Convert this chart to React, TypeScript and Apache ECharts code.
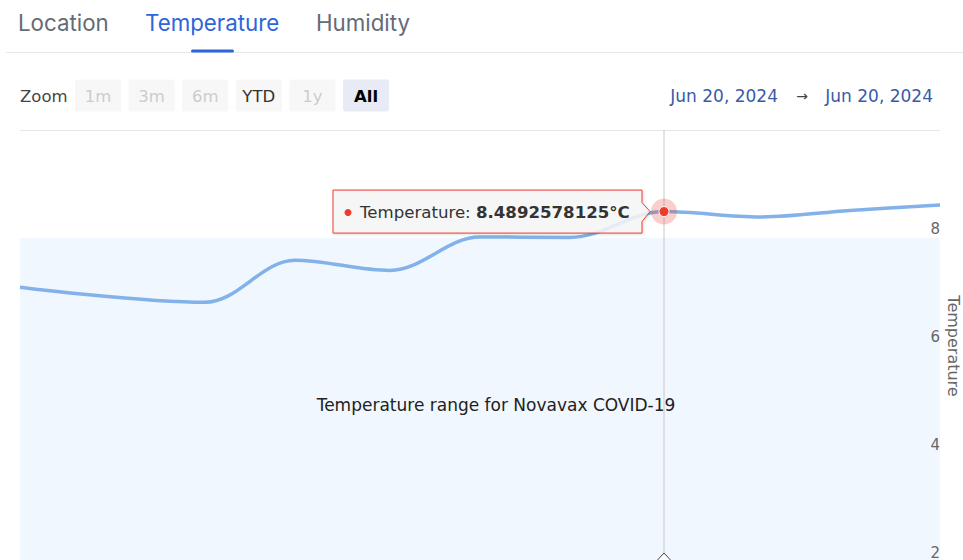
import React, { useEffect, useRef } from "react";
import * as echarts from "echarts";

// ---- data ----
const tabs = ["Location", "Temperature", "Humidity"];
const activeTab = "Temperature";
const zoomLabel = "Zoom";
const zoomButtons = ["1m", "3m", "6m", "YTD", "1y", "All"];
const enabledButtons = ["YTD", "All"];
const selectedButton = "All";
const rangeFrom = "Jun 20, 2024";
const rangeTo = "Jun 20, 2024";

const times = [
  "2024-06-20 12:00:00",
  "2024-06-20 12:18:30",
  "2024-06-20 12:27:30",
  "2024-06-20 12:37:00",
  "2024-06-20 12:46:00",
  "2024-06-20 12:55:00",
  "2024-06-20 13:04:24",
  "2024-06-20 13:14:00",
  "2024-06-20 13:23:00",
  "2024-06-20 13:32:00",
];
const temperatures = [7.09, 6.81, 7.59, 7.4, 8.02, 8.01, 8.4892578125, 8.39, 8.51, 8.61];
const hoveredIndex = 6;
const xRange = ["2024-06-20 12:00:00", "2024-06-20 13:32:00"];
const yMin = 2;
const yMax = 10;
const yInterval = 2;
const bandRange = [2, 8];
const bandLabel = "Temperature range for Novavax COVID-19";
const seriesName = "Temperature";
const yAxisTitle = "Temperature";
const unit = "°C";

const HC_FONT = "'DejaVu Sans', Verdana, sans-serif";
const RED = "#ec3a2c";

export default function App() {
  const ref = useRef<HTMLDivElement>(null);

  useEffect(() => {
    if (!ref.current) return;
    const chart = echarts.init(ref.current, undefined, { renderer: "svg" });

    const graphic: any[] = [];
    // tabs
    const tabX = [18, 145, 316];
    tabs.forEach((t, i) => {
      graphic.push({
        type: "text",
        x: tabX[i],
        y: 22,
        style: {
          text: t,
          font: "400 22.3px Inter, 'Noto Sans', sans-serif",
          fill: t === activeTab ? "#2d66d9" : "#636b78",
          textVerticalAlign: "middle",
        },
      });
    });
    graphic.push({
      type: "line",
      shape: { x1: 6, y1: 52.5, x2: 963, y2: 52.5 },
      style: { stroke: "#e6e8ec", lineWidth: 1 },
    });
    graphic.push({
      type: "rect",
      shape: { x: 191, y: 49.5, width: 43, height: 3, r: 1.5 },
      style: { fill: "#2d66d9" },
    });
    // range selector
    graphic.push({
      type: "text",
      x: 20,
      y: 96,
      style: { text: zoomLabel, font: `16.5px ${HC_FONT}`, fill: "#444", textVerticalAlign: "middle" },
    });
    zoomButtons.forEach((b, i) => {
      const x = 75 + i * 53.6;
      const enabled = enabledButtons.includes(b);
      const selected = b === selectedButton;
      graphic.push({
        type: "rect",
        shape: { x, y: 79.5, width: 46, height: 32, r: 2 },
        style: { fill: selected ? "#e6ebf5" : "#f7f7f7" },
      });
      graphic.push({
        type: "text",
        x: x + 23,
        y: 96,
        style: {
          text: b,
          font: `${selected ? "bold " : ""}16.5px ${HC_FONT}`,
          fill: selected ? "#000" : enabled ? "#333" : "#cccccc",
          textAlign: "center",
          textVerticalAlign: "middle",
        },
      });
    });
    graphic.push({
      type: "text",
      x: 778,
      y: 96,
      style: { text: rangeFrom, font: `17px ${HC_FONT}`, fill: "#3a5ba8", textAlign: "right", textVerticalAlign: "middle" },
    });
    graphic.push({
      type: "text",
      x: 802,
      y: 96,
      style: { text: "→", font: `14px ${HC_FONT}`, fill: "#444", textAlign: "center", textVerticalAlign: "middle" },
    });
    graphic.push({
      type: "text",
      x: 933,
      y: 96,
      style: { text: rangeTo, font: `17px ${HC_FONT}`, fill: "#3a5ba8", textAlign: "right", textVerticalAlign: "middle" },
    });
    // y-axis title (rotated clockwise)
    graphic.push({
      type: "text",
      x: 953,
      y: 346,
      rotation: -Math.PI / 2,
      style: {
        text: yAxisTitle,
        font: `16px ${HC_FONT}`,
        fill: "#666",
        textAlign: "center",
        textVerticalAlign: "middle",
      },
    });

    const lineData = times.map((t, i) => [t, temperatures[i]]);
    const hovered = [[times[hoveredIndex], temperatures[hoveredIndex]]];

    const yBase = {
      type: "value",
      position: "right",
      min: yMin,
      max: yMax,
      interval: yInterval,
      axisLine: { show: false },
      axisTick: { show: false },
    };

    chart.setOption({
      animation: false,
      graphic,
      grid: { left: 20, right: 23, top: 130, height: 432, containLabel: false, outerBoundsMode: "none" },
      xAxis: {
        type: "time",
        min: xRange[0],
        max: xRange[1],
        show: false,
      },
      yAxis: [
        {
          ...yBase,
          z: 0,
          splitLine: { show: true, lineStyle: { color: "#e6e6e6", width: 1 } },
          axisLabel: { show: false },
        },
        {
          ...yBase,
          z: 5,
          splitLine: { show: false },
          axisLabel: {
            inside: true,
            margin: 0,
            verticalAlign: "bottom",
            color: "#666",
            fontSize: 15,
            fontFamily: HC_FONT,
            showMaxLabel: false,
            padding: [0, 0, 2, 0],
          },
        },
      ],
      series: [
        {
          type: "line",
          name: seriesName,
          yAxisIndex: 0,
          data: lineData,
          smooth: 0.35,
          showSymbol: false,
          lineStyle: { color: "#82b2e9", width: 3.5 },
          itemStyle: { color: "#82b2e9" },
          markArea: {
            silent: true,
            itemStyle: { color: "#f0f7fe" },
            label: {
              show: true,
              position: "inside",
              formatter: bandLabel,
              color: "#222",
              fontSize: 17,
              fontFamily: HC_FONT,
              offset: [16, 5],
            },
            data: [[{ yAxis: bandRange[0] }, { yAxis: bandRange[1] }]],
          },
        },
        {
          type: "custom",
          z: 2,
          silent: true,
          yAxisIndex: 0,
          data: hovered,
          renderItem: (params: any, api: any) => {
            const p = api.coord([api.value(0), api.value(1)]);
            const cs = params.coordSys;
            const bottom = cs.y + cs.height;
            return {
              type: "group",
              children: [
                {
                  type: "line",
                  shape: { x1: p[0], y1: cs.y, x2: p[0], y2: bottom },
                  style: { stroke: "#c8c8c8", lineWidth: 1 },
                },
                {
                  type: "polygon",
                  shape: { points: [[p[0] - 12, bottom + 4], [p[0], bottom - 9], [p[0] + 12, bottom + 4]] },
                  style: { fill: "#fff", stroke: "#444", lineWidth: 1 },
                },
              ],
            };
          },
        },
        {
          type: "custom",
          z: 10,
          silent: true,
          yAxisIndex: 0,
          data: hovered,
          renderItem: (params: any, api: any) => {
            const p = api.coord([api.value(0), api.value(1)]);
            const v = api.value(1);
            const x = p[0];
            const y = p[1];
            return {
              type: "group",
              children: [
                {
                  type: "polygon",
                  shape: {
                    points: [
                      [x - 331, y - 21.5],
                      [x - 22, y - 21.5],
                      [x - 22, y - 9],
                      [x - 14, y],
                      [x - 22, y + 10],
                      [x - 22, y + 21.5],
                      [x - 331, y + 21.5],
                    ],
                  },
                  style: {
                    fill: "rgba(247,247,247,0.85)",
                    stroke: RED,
                    lineWidth: 1,
                    shadowBlur: 3,
                    shadowOffsetX: 1,
                    shadowOffsetY: 1,
                    shadowColor: "rgba(0,0,0,0.15)",
                  },
                },
                {
                  type: "circle",
                  shape: { cx: x - 316, cy: y + 1, r: 3.5 },
                  style: { fill: RED },
                },
                {
                  type: "text",
                  x: x - 304,
                  y: y + 1,
                  style: {
                    text: `{a|${seriesName}: }{b|${v}${unit}}`,
                    rich: {
                      a: { fontSize: 16.6, fontFamily: HC_FONT, fill: "#333", color: "#333" },
                      b: { fontSize: 16.6, fontFamily: HC_FONT, fontWeight: "bold", fill: "#333", color: "#333" },
                    },
                    verticalAlign: "middle",
                    textVerticalAlign: "middle",
                  },
                },
                {
                  type: "circle",
                  shape: { cx: x, cy: y, r: 13 },
                  style: { fill: RED, opacity: 0.25 },
                },
                {
                  type: "circle",
                  shape: { cx: x, cy: y, r: 5 },
                  style: { fill: RED, stroke: "#fff", lineWidth: 1 },
                },
              ],
            };
          },
        },
      ],
    });

    return () => chart.dispose();
  }, []);

  return (
    <div
      style={{
        position: "fixed",
        left: 0,
        top: 0,
        width: 963,
        height: 560,
        overflow: "hidden",
        background: "#fff",
      }}
    >
      <div ref={ref} style={{ width: 963, height: 600 }} />
    </div>
  );
}
